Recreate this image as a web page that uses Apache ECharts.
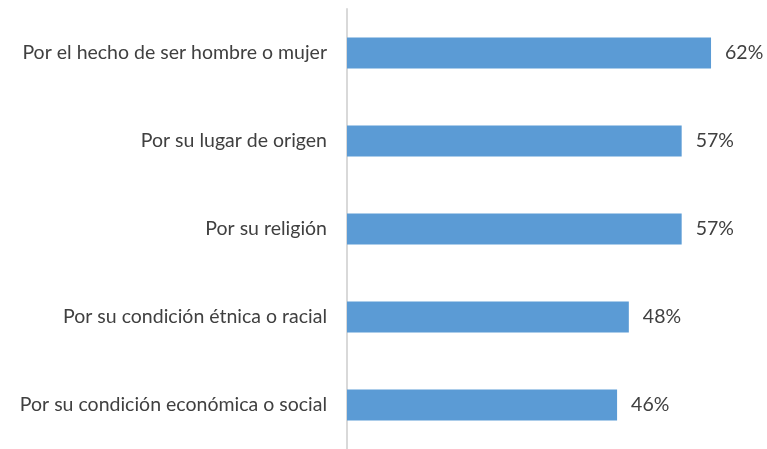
<!DOCTYPE html>
<html>
<head>
<meta charset="utf-8">
<script src="https://cdn.jsdelivr.net/npm/echarts@6/dist/echarts.min.js"></script>
<style>
  html, body { margin: 0; padding: 0; background: #fff; }
  #chart { width: 767px; height: 449px; }
</style>
</head>
<body>
<div id="chart"></div>
<script>
// categories from bottom to top (category axis on y starts at the bottom)
const categories = [
  'Por su condición económica o social',
  'Por su condición étnica o racial',
  'Por su religión',
  'Por su lugar de origen',
  'Por el hecho de ser hombre o mujer'
]
const values = [46, 48, 57, 57, 62]

const chart = echarts.init(document.getElementById('chart'))
const option = {
  animation: false,
  textStyle: { fontFamily: 'Lato, "Open Sans", sans-serif' },
  grid: {
    left: 347,
    right: 9,
    top: 9,
    bottom: -5
  },
  xAxis: {
    type: 'value',
    min: 0,
    max: 70,
    show: false
  },
  yAxis: {
    type: 'category',
    data: categories,
    axisLine: { lineStyle: { color: '#d9d9d9', width: 2 } },
    axisTick: { show: false },
    axisLabel: {
      color: '#404040',
      fontSize: 19.5,
      margin: 20
    }
  },
  series: [
    {
      type: 'bar',
      data: values,
      barWidth: '35%',
      itemStyle: { color: '#5b9bd5' },
      label: {
        show: true,
        position: 'right',
        distance: 14,
        color: '#404040',
        fontSize: 19.5,
        formatter: '{c}%'
      }
    }
  ]
}
chart.setOption(option)
</script>
</body>
</html>
